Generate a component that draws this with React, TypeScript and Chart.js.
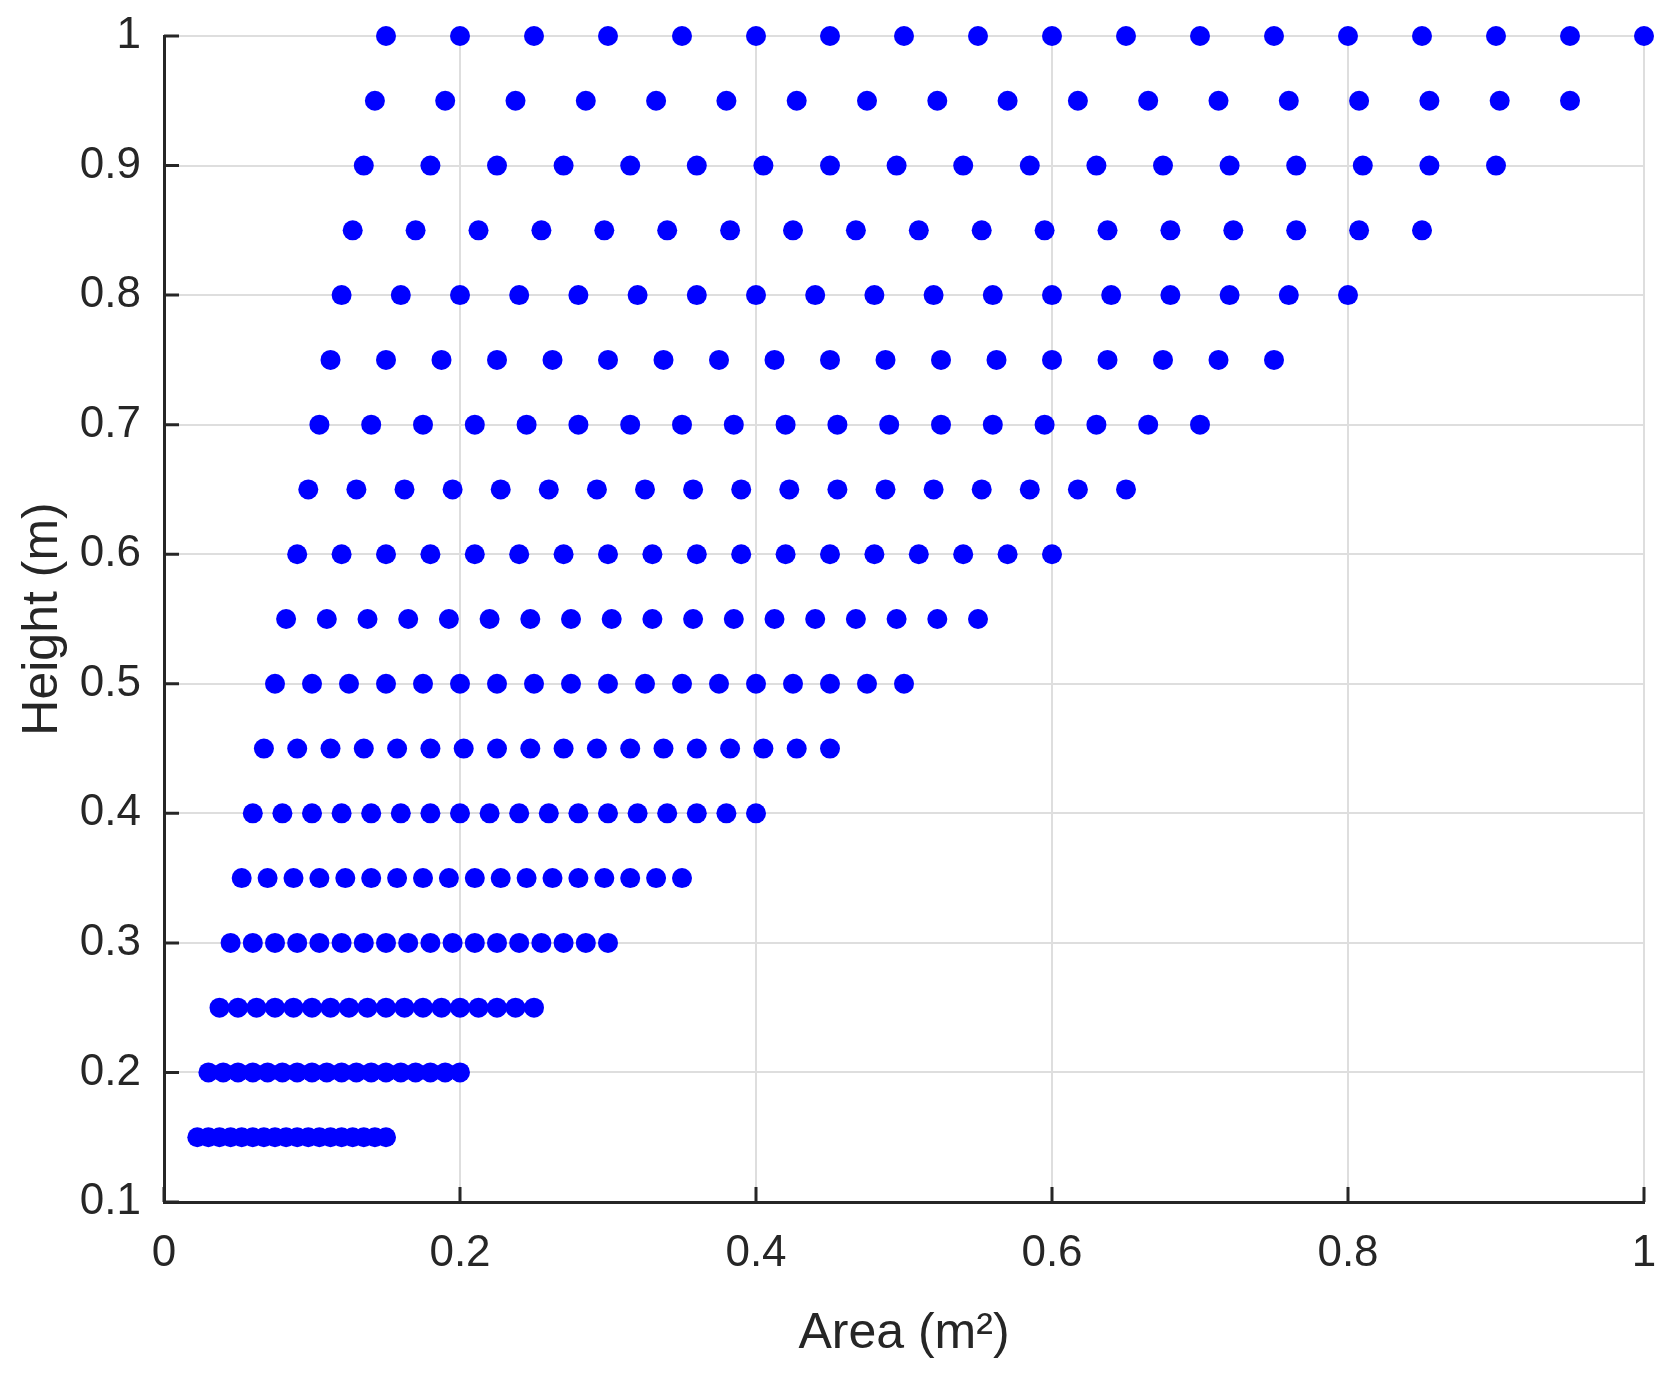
import React, { useEffect, useRef } from 'react';
import { Chart, registerables } from 'chart.js';

Chart.register(...registerables);

// heights (m) of each row of points
const heights = [0.15, 0.2, 0.25, 0.3, 0.35, 0.4, 0.45, 0.5, 0.55, 0.6, 0.65, 0.7, 0.75, 0.8, 0.85, 0.9, 0.95, 1.0];

// area values (m^2) read per row
const area015 = [0.0225, 0.03, 0.0375, 0.045, 0.0525, 0.06, 0.0675, 0.075, 0.0825, 0.09, 0.0975, 0.105, 0.1125, 0.12, 0.1275, 0.135, 0.1425, 0.15];
const area020 = [0.03, 0.04, 0.05, 0.06, 0.07, 0.08, 0.09, 0.1, 0.11, 0.12, 0.13, 0.14, 0.15, 0.16, 0.17, 0.18, 0.19, 0.2];
const area025 = [0.0375, 0.05, 0.0625, 0.075, 0.0875, 0.1, 0.1125, 0.125, 0.1375, 0.15, 0.1625, 0.175, 0.1875, 0.2, 0.2125, 0.225, 0.2375, 0.25];
const area030 = [0.045, 0.06, 0.075, 0.09, 0.105, 0.12, 0.135, 0.15, 0.165, 0.18, 0.195, 0.21, 0.225, 0.24, 0.255, 0.27, 0.285, 0.3];
const area035 = [0.0525, 0.07, 0.0875, 0.105, 0.1225, 0.14, 0.1575, 0.175, 0.1925, 0.21, 0.2275, 0.245, 0.2625, 0.28, 0.2975, 0.315, 0.3325, 0.35];
const area040 = [0.06, 0.08, 0.1, 0.12, 0.14, 0.16, 0.18, 0.2, 0.22, 0.24, 0.26, 0.28, 0.3, 0.32, 0.34, 0.36, 0.38, 0.4];
const area045 = [0.0675, 0.09, 0.1125, 0.135, 0.1575, 0.18, 0.2025, 0.225, 0.2475, 0.27, 0.2925, 0.315, 0.3375, 0.36, 0.3825, 0.405, 0.4275, 0.45];
const area050 = [0.075, 0.1, 0.125, 0.15, 0.175, 0.2, 0.225, 0.25, 0.275, 0.3, 0.325, 0.35, 0.375, 0.4, 0.425, 0.45, 0.475, 0.5];
const area055 = [0.0825, 0.11, 0.1375, 0.165, 0.1925, 0.22, 0.2475, 0.275, 0.3025, 0.33, 0.3575, 0.385, 0.4125, 0.44, 0.4675, 0.495, 0.5225, 0.55];
const area060 = [0.09, 0.12, 0.15, 0.18, 0.21, 0.24, 0.27, 0.3, 0.33, 0.36, 0.39, 0.42, 0.45, 0.48, 0.51, 0.54, 0.57, 0.6];
const area065 = [0.0975, 0.13, 0.1625, 0.195, 0.2275, 0.26, 0.2925, 0.325, 0.3575, 0.39, 0.4225, 0.455, 0.4875, 0.52, 0.5525, 0.585, 0.6175, 0.65];
const area070 = [0.105, 0.14, 0.175, 0.21, 0.245, 0.28, 0.315, 0.35, 0.385, 0.42, 0.455, 0.49, 0.525, 0.56, 0.595, 0.63, 0.665, 0.7];
const area075 = [0.1125, 0.15, 0.1875, 0.225, 0.2625, 0.3, 0.3375, 0.375, 0.4125, 0.45, 0.4875, 0.525, 0.5625, 0.6, 0.6375, 0.675, 0.7125, 0.75];
const area080 = [0.12, 0.16, 0.2, 0.24, 0.28, 0.32, 0.36, 0.4, 0.44, 0.48, 0.52, 0.56, 0.6, 0.64, 0.68, 0.72, 0.76, 0.8];
const area085 = [0.1275, 0.17, 0.2125, 0.255, 0.2975, 0.34, 0.3825, 0.425, 0.4675, 0.51, 0.5525, 0.595, 0.6375, 0.68, 0.7225, 0.765, 0.8075, 0.85];
const area090 = [0.135, 0.18, 0.225, 0.27, 0.315, 0.36, 0.405, 0.45, 0.495, 0.54, 0.585, 0.63, 0.675, 0.72, 0.765, 0.81, 0.855, 0.9];
const area095 = [0.1425, 0.19, 0.2375, 0.285, 0.3325, 0.38, 0.4275, 0.475, 0.5225, 0.57, 0.6175, 0.665, 0.7125, 0.76, 0.8075, 0.855, 0.9025, 0.95];
const area100 = [0.15, 0.2, 0.25, 0.3, 0.35, 0.4, 0.45, 0.5, 0.55, 0.6, 0.65, 0.7, 0.75, 0.8, 0.85, 0.9, 0.95, 1.0];

const areaRows = [area015, area020, area025, area030, area035, area040, area045, area050, area055,
  area060, area065, area070, area075, area080, area085, area090, area095, area100];

const FONT = "'Liberation Sans', Arial, Helvetica, sans-serif";
const INK = '#262626';

const fmt = (v: any) => String(Number(Number(v).toFixed(2)));

// MATLAB-style ticks pointing into the plot
const inwardTicks = {
  id: 'inwardTicks',
  afterDraw(chart: any) {
    const { ctx, chartArea, scales } = chart;
    const len = 15;
    ctx.save();
    ctx.strokeStyle = INK;
    ctx.lineWidth = 3;
    ctx.beginPath();
    scales.x.ticks.forEach((t: any) => {
      const px = scales.x.getPixelForValue(t.value);
      ctx.moveTo(px, chartArea.bottom);
      ctx.lineTo(px, chartArea.bottom - len);
    });
    scales.y.ticks.forEach((t: any) => {
      const py = scales.y.getPixelForValue(t.value);
      ctx.moveTo(chartArea.left, py);
      ctx.lineTo(chartArea.left + len, py);
    });
    ctx.stroke();
    ctx.restore();
  },
};

const noPad = (s: any) => {
  s.paddingLeft = 0;
  s.paddingRight = 0;
  s.paddingTop = 0;
  s.paddingBottom = 0;
};

export default function App() {
  const canvasRef = useRef<HTMLCanvasElement | null>(null);

  useEffect(() => {
    document.body.style.margin = '0';
    const ctx = canvasRef.current?.getContext('2d');
    if (!ctx) return;

    const points: { x: number; y: number }[] = [];
    areaRows.forEach((row, i) => row.forEach((a) => points.push({ x: a, y: heights[i] })));

    const chart = new Chart(ctx, {
      type: 'scatter',
      data: {
        datasets: [{
          data: points,
          pointRadius: 10,
          pointHoverRadius: 10,
          pointBackgroundColor: '#0000ff',
          pointBorderWidth: 0,
          clip: false,
        } as any],
      },
      options: {
        animation: false,
        responsive: false,
        maintainAspectRatio: false,
        layout: { padding: { top: 36, right: 24, left: 0, bottom: 0 } },
        plugins: { legend: { display: false }, tooltip: { enabled: false } },
        scales: {
          x: {
            type: 'linear',
            min: 0,
            max: 1,
            ticks: { stepSize: 0.2, color: INK, padding: 25, font: { family: FONT, size: 44 }, callback: fmt },
            grid: { color: '#dedede', lineWidth: 2, drawTicks: false },
            border: { display: true, color: INK, width: 3 },
            title: { display: true, text: 'Area (m²)', color: INK, padding: { top: 0, bottom: 16 }, font: { family: FONT, size: 50 } },
            afterFit: (s: any) => { s.height = 178; noPad(s); },
          },
          y: {
            type: 'linear',
            min: 0.1,
            max: 1,
            ticks: { stepSize: 0.1, color: INK, padding: 23, font: { family: FONT, size: 44 }, callback: fmt },
            grid: { color: '#dedede', lineWidth: 2, drawTicks: false },
            border: { display: true, color: INK, width: 3 },
            title: { display: true, text: 'Height (m)', color: INK, padding: { top: 13, bottom: 0 }, font: { family: FONT, size: 50 } },
            afterFit: (s: any) => { s.width = 164; noPad(s); },
          },
        },
      },
      plugins: [inwardTicks],
    });

    return () => chart.destroy();
  }, []);

  return (
    <div style={{ width: 1668, height: 1380, background: '#fff' }}>
      <canvas ref={canvasRef} width={1668} height={1380} style={{ width: 1668, height: 1380 }} />
    </div>
  );
}
